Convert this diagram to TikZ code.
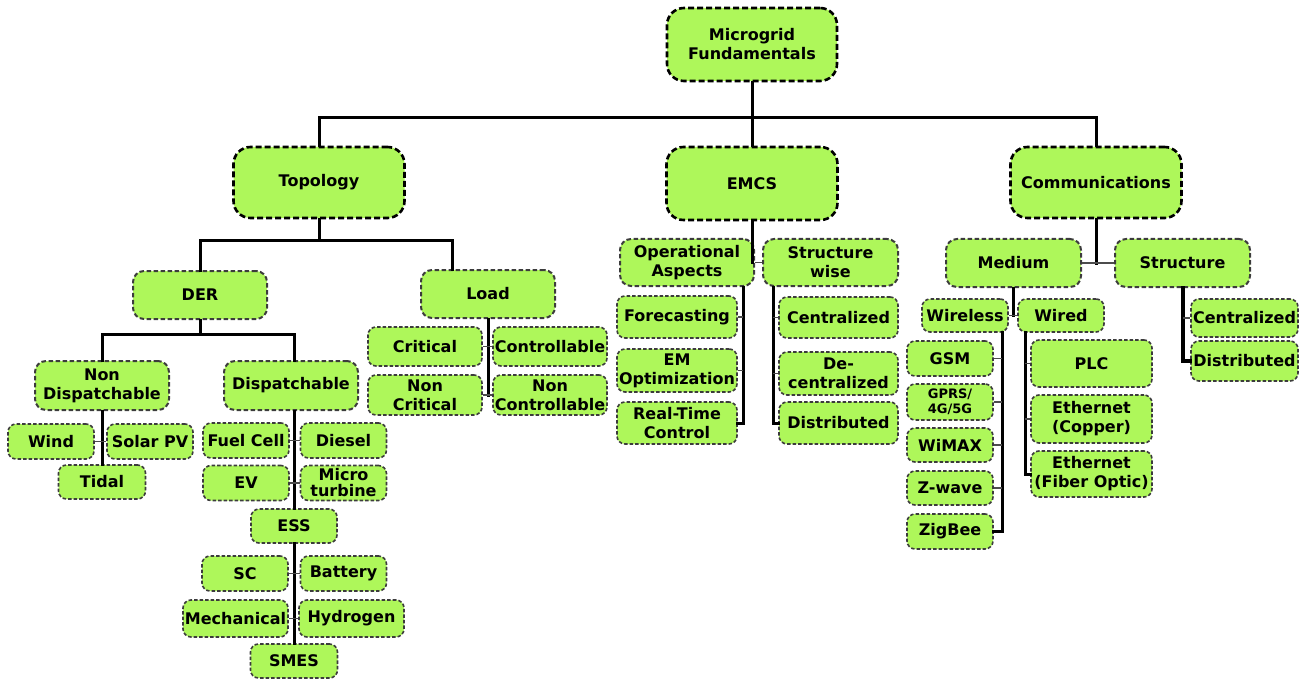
\documentclass[tikz,border=0pt]{standalone}
\usepackage{fontspec}
\setmainfont{DejaVu Sans}
\usepackage{tikz}
\usepackage{xcolor}
\usetikzlibrary{calc, positioning}

\definecolor{leafgreen}{RGB}{174,247,90}
\definecolor{rimgray}{RGB}{60,60,60}

\tikzset{
  box/.style={draw=rimgray, line width=1.6pt, dash pattern=on 3.5pt off 2pt,
    fill=leafgreen, rounded corners=8pt, align=center, inner sep=0pt,
    font=\bfseries\fontsize{16}{19}\selectfont},
  midbox/.style={box, line width=2pt, dash pattern=on 4.5pt off 2.5pt, rounded corners=11pt},
  topbox/.style={box, draw=black, line width=2.6pt, dash pattern=on 6pt off 3pt, rounded corners=17pt},
  leaf/.style={box, minimum width=86, minimum height=35},
  trunk/.style={line width=3pt, line cap=rect},
  tick/.style={line width=1.4pt, gray!60!black},
}

\begin{document}
\begin{tikzpicture}[x=1pt, y=-1pt]
  \useasboundingbox (0,0) rectangle (1304,679);
  % top level
  \node[topbox, minimum width=170, minimum height=73] (root) at (752,44.5) {Microgrid\\Fundamentals};
  \node[topbox, minimum width=171, minimum height=71] (topo) at (319,182.5) {Topology};
  \node[topbox, minimum width=171, minimum height=73] (emcs) at (752,183.5) {EMCS};
  \node[topbox, minimum width=171, minimum height=71] (comm) at (1096,182.5) {Communications};
  \coordinate (mainbus) at (752,118);
  \draw[trunk] (root.south) -- (mainbus);
  \draw[trunk] (topo.north) |- (mainbus) -| (comm.north);
  \draw[trunk] (mainbus) -- (emcs.north);

  % topology branch
  \node[midbox, minimum width=134, minimum height=48] (der) at (200,295) {DER};
  \node[midbox, minimum width=134, minimum height=48] (load) at (488,294) {Load};
  \coordinate (topobus) at (319,241);
  \draw[trunk] (topo.south) -- (topobus);
  \draw[trunk] (der.north) |- (topobus) -| ([xshift=-36pt]load.north);

  \node[midbox, minimum width=134, minimum height=49] (ndisp) at (102,385.5) {Non\\Dispatchable};
  \node[midbox, minimum width=134, minimum height=49] (disp) at (291,385.5) {Dispatchable};
  \coordinate (derbus) at (200,334);
  \draw[trunk] (der.south) -- (derbus);
  \draw[trunk] (ndisp.north) |- (derbus) -| ([xshift=3pt]disp.north);

  % non dispatchable
  \node[leaf] (wind) at (51,441.5) {Wind};
  \node[leaf] (solar) at (150,441.5) {Solar PV};
  \node[leaf, minimum width=87, minimum height=34] (tidal) at (102,482) {Tidal};
  \draw[trunk] (ndisp.south) -- (tidal.north);
  \draw[tick] (wind.east) -- (solar.west);

  % dispatchable
  \node[leaf] (fuel) at (246,440.5) {Fuel Cell};
  \node[leaf] (diesel) at (343.5,440.5) {Diesel};
  \node[leaf] (ev) at (246,483) {EV};
  \node[leaf] (micro) at (343.5,483) {Micro\\[-3pt]turbine};
  \node[leaf, minimum height=34] (ess) at (294,526) {ESS};
  \draw[trunk] (ess.north) -- (ess.north |- disp.south);
  \draw[tick] (fuel.east) -- (diesel.west);
  \draw[tick] (ev.east) -- (micro.west);

  % storage
  \node[leaf] (sc) at (245,573.5) {SC};
  \node[leaf] (battery) at (343.5,573.5) {Battery};
  \node[leaf, minimum width=105, minimum height=37] (mech) at (235.5,618.5) {Mechanical};
  \node[leaf, minimum width=105, minimum height=37] (hydro) at (351.5,618.5) {Hydrogen};
  \node[leaf, minimum width=87, minimum height=34] (smes) at (294,661) {SMES};
  \draw[trunk] (ess.south) -- (smes.north);
  \draw[tick] (sc.east) -- (battery.west);
  \draw[tick] (mech.east) -- (hydro.west);

  % load
  \node[box, minimum width=114, minimum height=39] (crit) at (425,346.5) {Critical};
  \node[box, minimum width=114, minimum height=39] (ctrl) at (550,346.5) {Controllable};
  \node[box, minimum width=114, minimum height=40] (ncrit) at (425,395) {Non\\Critical};
  \node[box, minimum width=114, minimum height=40] (nctrl) at (550,395) {Non\\Controllable};
  \draw[trunk] (load.south) -- (load.south |- ncrit.east);
  \draw[tick] (crit.east) -- (ctrl.west);
  \draw[tick] (ncrit.east) -- (nctrl.west);

  % EMCS branch
  \node[midbox, minimum width=134, minimum height=47] (opasp) at (687,262.5) {Operational\\Aspects};
  \node[midbox, minimum width=135, minimum height=47] (strw) at (830.5,262.5) {Structure\\wise};
  \draw[trunk] (emcs.south) -- (emcs.south |- opasp.east);
  \draw[tick] (opasp.east) -- (strw.west);

  \node[box, minimum width=120, minimum height=42] (fore) at (677,317) {Forecasting};
  \node[box, minimum width=120, minimum height=43] (emopt) at (677,370.5) {EM\\Optimization};
  \node[box, minimum width=120, minimum height=42] (rtc) at (677,423) {Real-Time\\Control};
  \coordinate (opx) at ([xshift=56pt]opasp.south);
  \draw[trunk] (opx) |- (rtc.east);
  \draw[tick] (fore.east) -- (fore.east -| opx);
  \draw[tick] (emopt.east) -- (emopt.east -| opx);

  \node[box, minimum width=119, minimum height=41] (centA) at (838.5,317.5) {Centralized};
  \node[box, minimum width=119, minimum height=43] (decent) at (838.5,373.5) {De-\\centralized};
  \node[box, minimum width=119, minimum height=42] (distA) at (838.5,423) {Distributed};
  \coordinate (swx) at ([xshift=-57.5pt]strw.south);
  \draw[trunk] (swx) |- (distA.west);
  \draw[tick] (centA.west) -- (centA.west -| swx);
  \draw[tick] (decent.west) -- (decent.west -| swx);

  % communications branch
  \node[midbox, minimum width=135, minimum height=48] (medium) at (1013.5,263) {Medium};
  \node[midbox, minimum width=135, minimum height=48] (struct) at (1182.5,263) {Structure};
  \draw[trunk] (comm.south) -- (comm.south |- medium.east);
  \draw[tick] (medium.east) -- (struct.west);

  \node[leaf, minimum height=33] (wless) at (965,315.5) {Wireless};
  \node[leaf, minimum height=33] (wired) at (1061,315.5) {Wired};
  \draw[trunk] (medium.south) -- (medium.south |- wless.east);
  \draw[tick] (wless.east) -- (wired.west);

  % wireless
  \node[leaf] (gsm) at (950,358.5) {GSM};
  \node[leaf, minimum height=36, font=\bfseries\fontsize{13}{15}\selectfont] (gprs) at (950,402) {GPRS/\\4G/5G};
  \node[leaf, minimum height=34] (wimax) at (950,445) {WiMAX};
  \node[leaf, minimum height=34] (zwave) at (950,488) {Z-wave};
  \node[leaf] (zigbee) at (950,531.5) {ZigBee};
  \coordinate (wlx) at ([xshift=37pt]wless.south);
  \draw[trunk] (wlx) |- (zigbee.east);
  \foreach \n in {gsm, gprs, wimax, zwave}
    \draw[tick] (\n.east) -- (\n.east -| wlx);

  % wired
  \node[box, minimum width=121, minimum height=47] (plc) at (1091.5,363.5) {PLC};
  \node[box, minimum width=121, minimum height=48] (ethc) at (1091.5,419) {Ethernet\\(Copper)};
  \node[box, minimum width=121, minimum height=46] (ethf) at (1091.5,474) {Ethernet\\(Fiber Optic)};
  \coordinate (wdx) at ([xshift=-36pt]wired.south);
  \draw[trunk] (wdx) |- (ethf.west);
  \draw[tick] (plc.west) -- (plc.west -| wdx);
  \draw[tick] (ethc.west) -- (ethc.west -| wdx);

  % structure
  \node[box, minimum width=107, minimum height=38] (centB) at (1244.5,318) {Centralized};
  \node[box, minimum width=107, minimum height=40] (distB) at (1244.5,361) {Distributed};
  \draw[trunk, line width=4pt] (struct.south) |- (distB.west);
  \draw[tick] (centB.west) -- (centB.west -| struct.south);
\end{tikzpicture}
\end{document}
